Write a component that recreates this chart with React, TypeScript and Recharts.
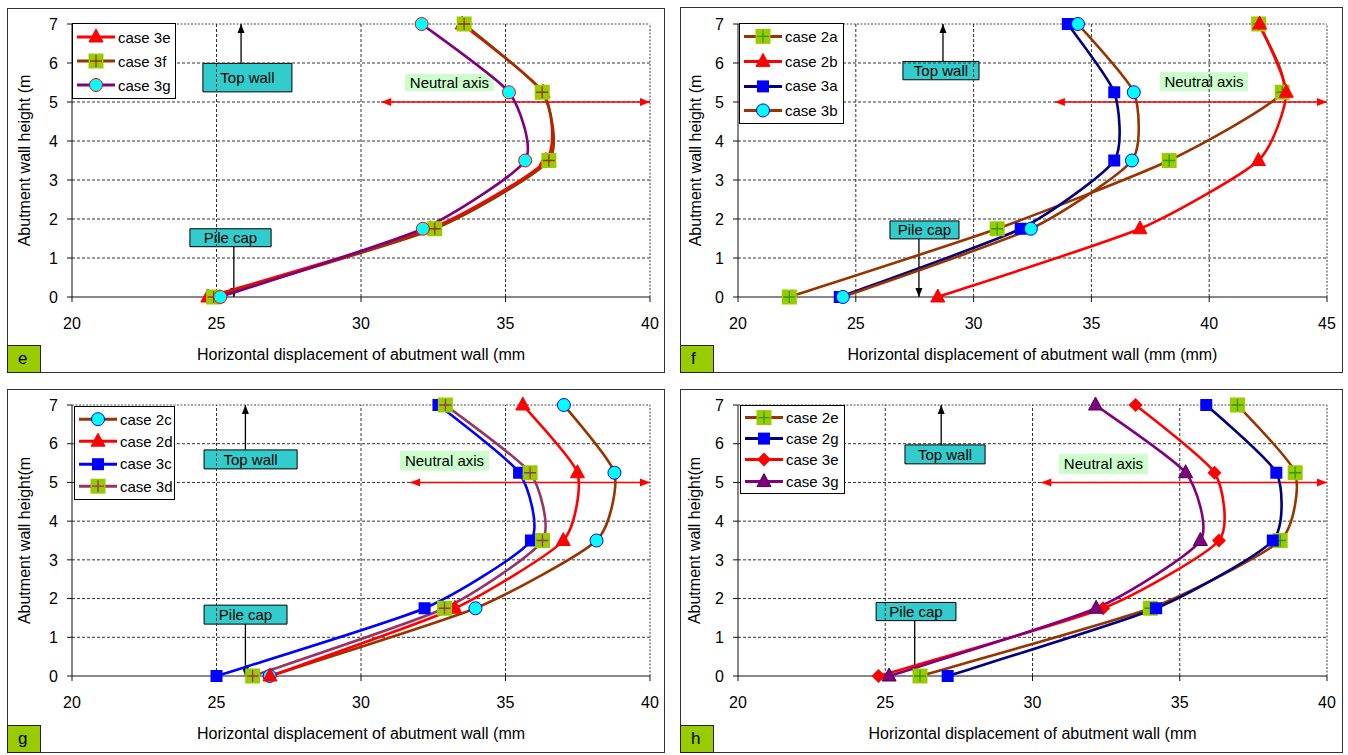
import React from 'react';
import {
  Legend,
  Line,
  LineChart,
  ReferenceArea,
  ReferenceLine,
  XAxis,
  YAxis,
} from 'recharts';

const FONT = '"Liberation Sans", Arial, sans-serif';

// wall heights where the gauges are (m), shared by every case
const heights = [0, 1.75, 3.5, 5.25, 7];
const yTicks = [0, 1, 2, 3, 4, 5, 6, 7];
const xTicks40 = [20, 25, 30, 35, 40];
const xTicks45 = [20, 25, 30, 35, 40, 45];

// panel e
const case3eE = [24.7, 32.4, 36.4, 36.3, 33.5];
const case3fE = [24.9, 32.55, 36.5, 36.27, 33.57];
const case3gE = [25.13, 32.14, 35.68, 35.12, 32.1];
// panel f
const case2aF = [22.18, 31.0, 38.3, 43.1, 42.1];
const case2bF = [28.48, 37.06, 42.09, 43.27, 42.14];
const case3aF = [24.32, 32.0, 35.97, 35.97, 34.0];
const case3bF = [24.45, 32.43, 36.72, 36.8, 34.43];
// panel g
const case2cG = [26.84, 33.96, 38.15, 38.77, 37.02];
const case2dG = [26.85, 33.25, 37.0, 37.49, 35.6];
const case3cG = [25.0, 32.2, 35.88, 35.47, 32.68];
const case3dG = [26.25, 32.89, 36.28, 35.85, 32.92];
// panel h
const case2eH = [26.18, 34.0, 38.41, 38.92, 36.96];
const case2gH = [27.12, 34.2, 38.16, 38.28, 35.9];
const case3eH = [24.77, 32.4, 36.33, 36.18, 33.5];
const case3gH = [25.13, 32.16, 35.7, 35.2, 32.14];

type Marker = 'triangle' | 'plusSquare' | 'circle' | 'square' | 'diamond';

type Series = {
  name: string;
  values: number[];
  color: string;
  marker: Marker;
  accent: string;
};

// excel style smoothed line (bezier through every point, mild tension)
const SMOOTH = 0.1;
const excelCurve = (context: any) => {
  let pts: number[][] = [];
  return {
    areaStart() {},
    areaEnd() {},
    lineStart() {
      pts = [];
    },
    point(x: number, y: number) {
      pts.push([+x, +y]);
    },
    lineEnd() {
      if (!pts.length) return;
      context.moveTo(pts[0][0], pts[0][1]);
      for (let i = 0; i < pts.length - 1; i++) {
        const p0 = pts[i - 1] || pts[i];
        const p1 = pts[i];
        const p2 = pts[i + 1];
        const p3 = pts[i + 2] || p2;
        context.bezierCurveTo(
          p1[0] + (p2[0] - p0[0]) * SMOOTH,
          p1[1] + (p2[1] - p0[1]) * SMOOTH,
          p2[0] - (p3[0] - p1[0]) * SMOOTH,
          p2[1] - (p3[1] - p1[1]) * SMOOTH,
          p2[0],
          p2[1],
        );
      }
    },
  };
};

function MarkerShape({ kind, cx, cy, color, accent }: { kind: Marker; cx: number; cy: number; color: string; accent: string }) {
  switch (kind) {
    case 'triangle':
      return <polygon points={`${cx},${cy - 8} ${cx + 7},${cy + 5} ${cx - 7},${cy + 5}`} fill={color} stroke={accent} strokeWidth={1} />;
    case 'plusSquare':
      return (
        <g>
          <rect x={cx - 7.5} y={cy - 7.5} width={15} height={15} fill="#99CC00" />
          <path d={`M${cx - 6},${cy}H${cx + 6}M${cx},${cy - 6}V${cy + 6}`} stroke={accent} strokeWidth={1.3} />
        </g>
      );
    case 'circle':
      return <circle cx={cx} cy={cy} r={6.5} fill="#00FFFF" stroke={accent} strokeWidth={1} />;
    case 'square':
      return <rect x={cx - 6} y={cy - 6} width={12} height={12} fill="#0000FF" />;
    case 'diamond':
      return <polygon points={`${cx},${cy - 7} ${cx + 7},${cy} ${cx},${cy + 7} ${cx - 7},${cy}`} fill={color} />;
  }
  return null;
}

function ArrowShape(props: any) {
  const { x1, y1, x2, y2, color, sw, both, len, w } = props;
  const head = (tx: number, ty: number, fx: number, fy: number) => {
    const a = Math.atan2(ty - fy, tx - fx);
    const bx = tx - len * Math.cos(a);
    const by = ty - len * Math.sin(a);
    const px = (-Math.sin(a) * w) / 2;
    const py = (Math.cos(a) * w) / 2;
    return `${tx},${ty} ${bx + px},${by + py} ${bx - px},${by - py}`;
  };
  return (
    <g>
      <line x1={x1} y1={y1} x2={x2} y2={y2} stroke={color} strokeWidth={sw} />
      <polygon points={head(x2, y2, x1, y1)} fill={color} />
      {both && <polygon points={head(x1, y1, x2, y2)} fill={color} />}
    </g>
  );
}

function GridShape(props: any) {
  const { x1, y1, x2, y2, edge } = props;
  return (
    <line
      x1={x1}
      y1={y1}
      x2={x2}
      y2={y2}
      stroke={edge ? '#888' : '#333'}
      strokeWidth={edge ? 1.6 : 1}
      strokeDasharray={edge ? '2 1.5' : '3 2'}
    />
  );
}

type Box = { x1: number; x2: number; y1: number; y2: number };

type Panel = {
  tag: string;
  left: number;
  top: number;
  width: number;
  height: number;
  plotLeft: number;
  mTop: number;
  mRight: number;
  mBottom: number;
  xMax: number;
  xTicks: number[];
  yTitle: string;
  yTitleX: number;
  xTitle: string;
  series: Series[];
  topWall: Box;
  topArrowX: number;
  pileCap: Box;
  pileArrowX: number;
  neutral: Box;
  axisFrom: number;
  legend: { left: number; top: number; width: number; rowH: number; pad: number };
};

const panels: Panel[] = [
  {
    tag: 'e', left: 7, top: 8, width: 658, height: 365,
    plotLeft: 65, mTop: 16, mRight: 15, mBottom: 10, xMax: 40, xTicks: xTicks40,
    yTitle: 'Abutment  wall height (m', yTitleX: 17,
    xTitle: 'Horizontal displacement of abutment wall (mm',
    series: [
      { name: 'case 3e', values: case3eE, color: '#FF0000', marker: 'triangle', accent: '#FF0000' },
      { name: 'case 3f', values: case3fE, color: '#993300', marker: 'plusSquare', accent: '#993300' },
      { name: 'case 3g', values: case3gE, color: '#800080', marker: 'circle', accent: '#FF0000' },
    ],
    topWall: { x1: 24.53, x2: 27.61, y1: 5.26, y2: 5.99 }, topArrowX: 25.85,
    pileCap: { x1: 24.08, x2: 26.89, y1: 1.29, y2: 1.75 }, pileArrowX: 25.6,
    neutral: { x1: 31.52, x2: 34.6, y1: 5.28, y2: 5.72 }, axisFrom: 30.7,
    legend: { left: 65, top: 15, width: 102, rowH: 24, pad: 1 },
  },
  {
    tag: 'f', left: 680, top: 7, width: 663, height: 366,
    plotLeft: 58, mTop: 17, mRight: 16, mBottom: 10, xMax: 45, xTicks: xTicks45,
    yTitle: 'Abutment  wall height (m', yTitleX: 15,
    xTitle: 'Horizontal displacement of abutment wall (mm (mm)',
    series: [
      { name: 'case 2a', values: case2aF, color: '#993300', marker: 'plusSquare', accent: '#339900' },
      { name: 'case 2b', values: case2bF, color: '#FF0000', marker: 'triangle', accent: '#FF0000' },
      { name: 'case 3a', values: case3aF, color: '#000080', marker: 'square', accent: '#0000FF' },
      { name: 'case 3b', values: case3bF, color: '#993300', marker: 'circle', accent: '#0000FF' },
    ],
    topWall: { x1: 27.0, x2: 30.23, y1: 5.57, y2: 6.04 }, topArrowX: 28.7,
    pileCap: { x1: 26.45, x2: 29.38, y1: 1.49, y2: 1.95 }, pileArrowX: 27.68,
    neutral: { x1: 37.91, x2: 41.65, y1: 5.28, y2: 5.77 }, axisFrom: 33.45,
    legend: { left: 59, top: 16, width: 103, rowH: 24.8, pad: 0 },
  },
  {
    tag: 'g', left: 7, top: 389, width: 658, height: 364,
    plotLeft: 65, mTop: 16, mRight: 15, mBottom: 11, xMax: 40, xTicks: xTicks40,
    yTitle: 'Abutment  wall height(m', yTitleX: 17,
    xTitle: 'Horizontal displacement of abutment wall (mm',
    series: [
      { name: 'case 2c', values: case2cG, color: '#993300', marker: 'circle', accent: '#0000FF' },
      { name: 'case 2d', values: case2dG, color: '#FF0000', marker: 'triangle', accent: '#FF0000' },
      { name: 'case 3c', values: case3cG, color: '#0000FF', marker: 'square', accent: '#0000FF' },
      { name: 'case 3d', values: case3dG, color: '#993366', marker: 'plusSquare', accent: '#993366' },
    ],
    topWall: { x1: 24.57, x2: 27.79, y1: 5.35, y2: 5.84 }, topArrowX: 26.0,
    pileCap: { x1: 24.57, x2: 27.44, y1: 1.34, y2: 1.83 }, pileArrowX: 26.0,
    neutral: { x1: 31.35, x2: 34.43, y1: 5.3, y2: 5.81 }, axisFrom: 31.7,
    legend: { left: 67, top: 17, width: 99, rowH: 22.4, pad: 1 },
  },
  {
    tag: 'h', left: 680, top: 389, width: 663, height: 364,
    plotLeft: 58, mTop: 16, mRight: 16, mBottom: 11, xMax: 40, xTicks: xTicks40,
    yTitle: 'Abutment  wall height(m', yTitleX: 14,
    xTitle: 'Horizontal displacement of abutment wall (mm',
    series: [
      { name: 'case 2e', values: case2eH, color: '#993300', marker: 'plusSquare', accent: '#339900' },
      { name: 'case 2g', values: case2gH, color: '#000080', marker: 'square', accent: '#0000FF' },
      { name: 'case 3e', values: case3eH, color: '#FF0000', marker: 'diamond', accent: '#FF0000' },
      { name: 'case 3g', values: case3gH, color: '#800080', marker: 'triangle', accent: '#4B004B' },
    ],
    topWall: { x1: 25.67, x2: 28.39, y1: 5.48, y2: 5.97 }, topArrowX: 26.9,
    pileCap: { x1: 24.69, x2: 27.4, y1: 1.43, y2: 1.9 }, pileArrowX: 26.0,
    neutral: { x1: 30.9, x2: 33.92, y1: 5.22, y2: 5.74 }, axisFrom: 30.3,
    legend: { left: 60, top: 16, width: 103, rowH: 21.2, pad: 1 },
  },
];

function LegendBox({ series, width, rowH, pad }: { series: Series[]; width: number; rowH: number; pad: number }) {
  return (
    <div style={{ border: '1px solid #000', background: '#fff', width, paddingTop: pad, paddingBottom: pad, fontFamily: FONT, fontSize: 15, color: '#000' }}>
      {series.map((s) => (
        <div key={s.name} style={{ display: 'flex', alignItems: 'center', height: rowH }}>
          <svg width={45} height={rowH} style={{ flex: 'none' }}>
            <line x1={4} x2={42} y1={rowH / 2} y2={rowH / 2} stroke={s.color} strokeWidth={3} />
            <MarkerShape kind={s.marker} cx={23} cy={rowH / 2} color={s.color} accent={s.accent} />
          </svg>
          <span style={{ whiteSpace: 'nowrap' }}>{s.name}</span>
        </div>
      ))}
    </div>
  );
}

function PanelChart({ p }: { p: Panel }) {
  const rows = heights.map((h, i) => {
    const row: { [k: string]: number } = { h };
    p.series.forEach((s) => {
      row[s.name] = s.values[i];
    });
    return row;
  });
  const boxLabel = (text: string) => ({ value: text, position: 'center' as const, fill: '#000', fontSize: 15 });

  return (
    <div style={{ position: 'absolute', left: p.left, top: p.top, width: p.width, height: p.height }}>
      <LineChart
        layout="vertical"
        width={p.width}
        height={p.height}
        data={rows}
        margin={{ top: p.mTop, right: p.mRight, bottom: p.mBottom, left: 0 }}
        style={{ fontFamily: FONT }}
      >
        <XAxis
          type="number"
          domain={[20, p.xMax]}
          ticks={p.xTicks}
          height={66}
          stroke="#111"
          tickSize={5}
          tickMargin={16}
          tick={{ fill: '#000', fontSize: 16 }}
          label={{ value: p.xTitle, position: 'insideBottom', offset: 3, fill: '#000', fontSize: 16 }}
        />
        <YAxis
          type="number"
          dataKey="h"
          domain={[0, 7]}
          ticks={yTicks}
          reversed
          width={p.plotLeft}
          stroke="#111"
          tickSize={5}
          tickMargin={9}
          tick={{ fill: '#000', fontSize: 16 }}
          label={{ value: p.yTitle, angle: -90, position: 'insideLeft', offset: p.yTitleX, fill: '#000', fontSize: 16, style: { textAnchor: 'middle' } }}
        />
        {yTicks.slice(1).map((t) => (
          <ReferenceLine
            key={`gy${t}`}
            segment={[{ x: 20, y: t }, { x: p.xMax, y: t }]}
            ifOverflow="visible"
            shape={(sp: any) => <GridShape {...sp} edge={t === 7} />}
          />
        ))}
        {p.xTicks.slice(1).map((t) => (
          <ReferenceLine
            key={`gx${t}`}
            segment={[{ x: t, y: 0 }, { x: t, y: 7 }]}
            ifOverflow="visible"
            shape={(sp: any) => <GridShape {...sp} edge={t === p.xMax} />}
          />
        ))}
        <ReferenceArea {...p.neutral} ifOverflow="visible" fill="#CCFFCC" fillOpacity={1} stroke="none" label={boxLabel('Neutral axis')} />
        <ReferenceArea {...p.topWall} ifOverflow="visible" fill="#33CCCC" fillOpacity={1} stroke="#000" strokeWidth={1} label={boxLabel('Top wall')} />
        <ReferenceArea {...p.pileCap} ifOverflow="visible" fill="#33CCCC" fillOpacity={1} stroke="#000" strokeWidth={1} label={boxLabel('Pile cap')} />
        <ReferenceLine
          segment={[{ x: p.topArrowX, y: p.topWall.y2 }, { x: p.topArrowX, y: 7 }]}
          ifOverflow="visible"
          shape={(sp: any) => <ArrowShape {...sp} color="#000" sw={1.3} len={9} w={7} />}
        />
        <ReferenceLine
          segment={[{ x: p.pileArrowX, y: p.pileCap.y1 }, { x: p.pileArrowX, y: 0 }]}
          ifOverflow="visible"
          shape={(sp: any) => <ArrowShape {...sp} color="#000" sw={1.3} len={9} w={7} />}
        />
        <ReferenceLine
          segment={[{ x: p.axisFrom, y: 5 }, { x: p.xMax, y: 5 }]}
          ifOverflow="visible"
          shape={(sp: any) => <ArrowShape {...sp} color="#FF0000" sw={1.5} both len={10} w={8} />}
        />
        {p.series.map((s) => (
          <Line
            key={s.name}
            dataKey={s.name}
            name={s.name}
            type={excelCurve as any}
            stroke={s.color}
            strokeWidth={2.6}
            isAnimationActive={false}
            activeDot={false}
            dot={(d: any) => (
              <MarkerShape key={`${s.name}-${d.index}`} kind={s.marker} cx={d.cx} cy={d.cy} color={s.color} accent={s.accent} />
            )}
          />
        ))}
        <Legend
          layout="vertical"
          align="center"
          verticalAlign="middle"
          wrapperStyle={{ left: p.legend.left, top: p.legend.top, width: 'auto' }}
          content={() => <LegendBox series={p.series} width={p.legend.width} rowH={p.legend.rowH} pad={p.legend.pad} />}
        />
      </LineChart>
      <div style={{ position: 'absolute', inset: 0, border: '1.5px solid #333', pointerEvents: 'none' }} />
      <div
        style={{
          position: 'absolute',
          left: 0,
          bottom: 0,
          width: 34,
          height: 28,
          boxSizing: 'border-box',
          border: '1.5px solid #222',
          background: '#99CC00',
          fontFamily: FONT,
          fontSize: 17,
          lineHeight: '26px',
          paddingLeft: 10,
          color: '#000',
        }}
      >
        {p.tag}
      </div>
    </div>
  );
}

export default function App() {
  return (
    <div style={{ position: 'absolute', left: 0, top: 0, width: 1348, height: 755, background: '#fff' }}>
      {panels.map((p) => (
        <PanelChart key={p.tag} p={p} />
      ))}
    </div>
  );
}
